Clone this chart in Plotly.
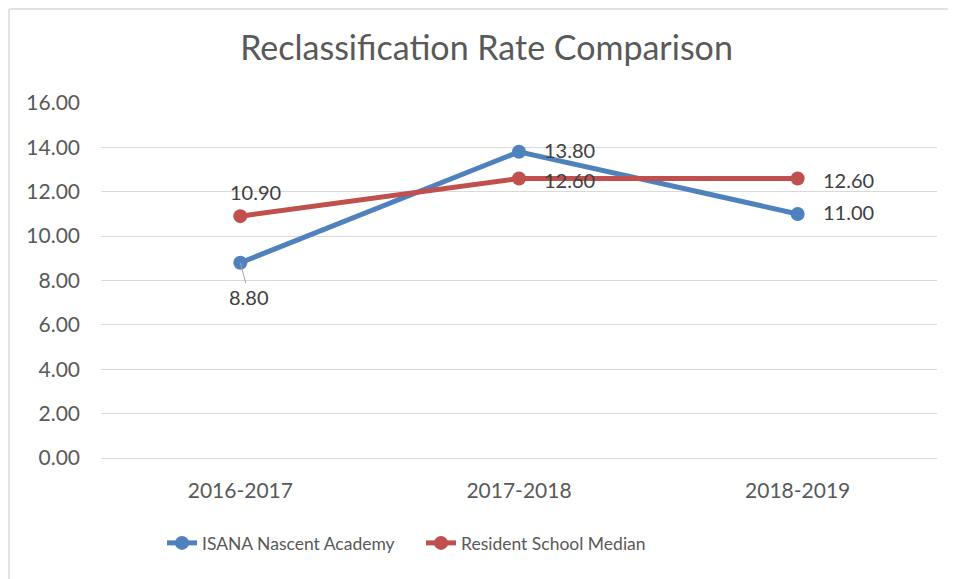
import plotly.graph_objects as go

categories = ["2016-2017", "2017-2018", "2018-2019"]
isana = [8.80, 13.80, 11.00]
resident = [10.90, 12.60, 12.60]
y_ticks = [0, 2, 4, 6, 8, 10, 12, 14, 16]
y_tick_labels = ["0.00", "2.00", "4.00", "6.00", "8.00", "10.00", "12.00", "14.00", "16.00"]

BLUE = "#4F81BD"
RED = "#C0504D"
FONT = "Lato"

# page offset (body margin) compensation
OFF = 8
W, H = 956, 579
PL, PR, PT, PB = 101, 937, 103, 458  # plot area in page pixels

fig = go.Figure()
fig.add_trace(go.Scatter(
    x=categories, y=isana, name="ISANA Nascent Academy",
    mode="lines+markers", line=dict(color=BLUE, width=5),
    marker=dict(size=14, color=BLUE),
))
fig.add_trace(go.Scatter(
    x=categories, y=resident, name="Resident School Median",
    mode="lines+markers", line=dict(color=RED, width=5),
    marker=dict(size=14, color=RED),
))

label_font = dict(family=FONT, size=20, color="#404040")
annotations = []
annotations.append(dict(x=categories[0], y=isana[0], text=f"{isana[0]:.2f}",
                        showarrow=True, arrowhead=0, arrowwidth=1, arrowcolor="#A6A6A6",
                        ax=9, ay=34, standoff=0, font=label_font))
for i in (1, 2):
    annotations.append(dict(x=categories[i], y=isana[i], text=f"{isana[i]:.2f}",
                            showarrow=False, xanchor="left", xshift=23, yshift=2,
                            font=label_font))
annotations.append(dict(x=categories[0], y=resident[0], text=f"{resident[0]:.2f}",
                        showarrow=False, xanchor="center", xshift=15, yshift=24,
                        font=label_font))
for i in (1, 2):
    annotations.append(dict(x=categories[i], y=resident[i], text=f"{resident[i]:.2f}",
                            showarrow=False, xanchor="left", xshift=23, yshift=-2,
                            font=label_font))

pw = PR - PL
ph = PB - PT

def px_x(p):
    return (p - PL) / pw

def px_y(p):
    return (PB - p) / ph

fig.update_layout(
    width=W, height=H,
    margin=dict(l=PL - OFF, r=W + OFF - PR, t=PT - OFF, b=H + OFF - PB),
    paper_bgcolor="white", plot_bgcolor="white",
    title=dict(text="Reclassification Rate Comparison", x=(486.5 - OFF) / W, xref="container",
               y=1 - (48 - OFF) / H, yref="container", xanchor="center", yanchor="middle",
               font=dict(family=FONT, size=34, color="#595959")),
    font=dict(family=FONT, color="#595959"),
    showlegend=True,
    legend=dict(orientation="h", x=px_x(162), xanchor="left",
                y=px_y(543), yanchor="middle", yref="paper",
                font=dict(family=FONT, size=17.5, color="#595959"),
                entrywidth=214, entrywidthmode="pixels", itemwidth=30),
    annotations=annotations,
    shapes=[
        dict(type="line", xref="paper", yref="paper", x0=px_x(9), x1=px_x(9),
             y0=px_y(600), y1=px_y(9), line=dict(color="#D9D9D9", width=1.5)),
        dict(type="line", xref="paper", yref="paper", x0=px_x(9), x1=px_x(970),
             y0=px_y(9), y1=px_y(9), line=dict(color="#D9D9D9", width=1.5)),
    ],
)
fig.update_xaxes(type="category", range=[-0.5, 2.5], showgrid=False, zeroline=False,
                 showline=True, linecolor="#D9D9D9", linewidth=1,
                 tickfont=dict(family=FONT, size=21, color="#595959"),
                 ticks="", ticklabelstandoff=14)
fig.update_yaxes(range=[0, 16], tickvals=y_ticks, ticktext=y_tick_labels,
                 showgrid=True, gridcolor="#D9D9D9", gridwidth=1, zeroline=False,
                 showline=False, ticks="",
                 tickfont=dict(family=FONT, size=21, color="#595959"),
                 ticklabelstandoff=20)

fig.write_html("out.html")
